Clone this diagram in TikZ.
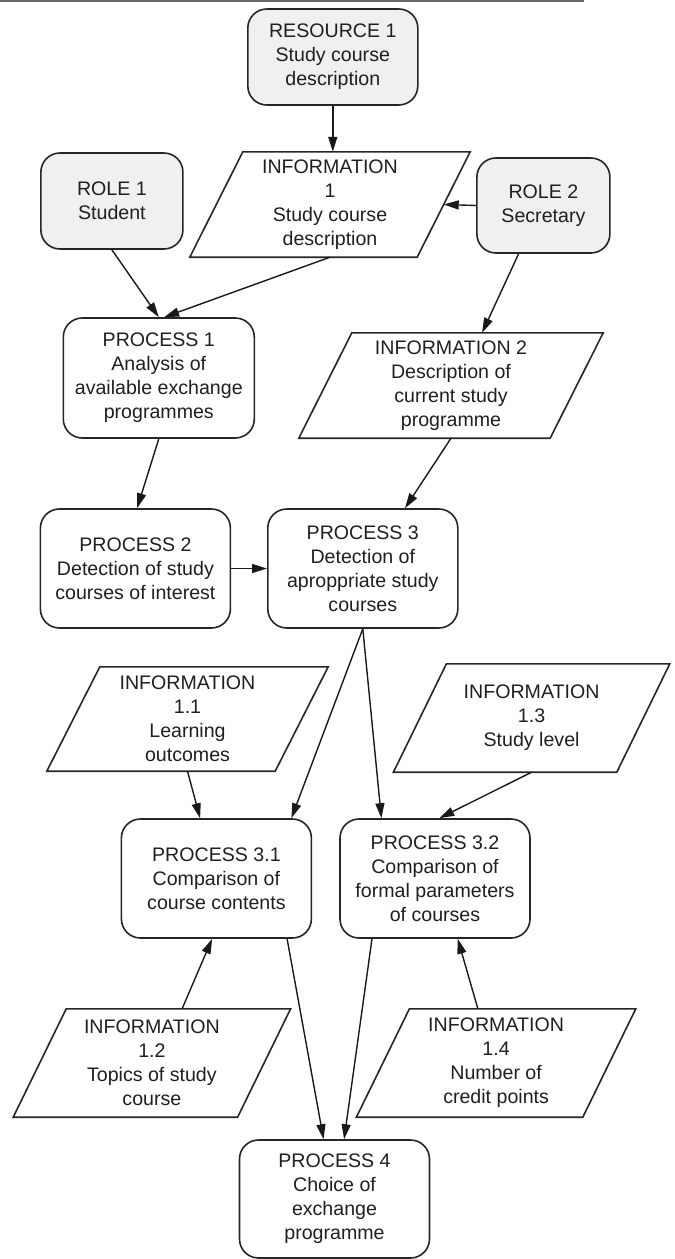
\documentclass[tikz,border=0pt]{standalone}
\usepackage{fontspec}
\setmainfont{Liberation Sans}
\usetikzlibrary{arrows.meta}
\newcommand\drawpara[1]{\draw[paraline] ([xshift=-26.5pt]#1.south west) -- ([xshift=-26.5pt]#1.south east) -- ([xshift=26.5pt]#1.north east) -- ([xshift=26.5pt]#1.north west) -- cycle;}
\begin{document}
\begin{tikzpicture}[x=1pt,y=-1pt,
  txt/.style={align=center, text=black!88, font=\fontsize{19.6}{24}\selectfont, inner sep=0pt},
  box/.style={txt, draw=black!85, line width=1.6pt, rounded corners=19pt, minimum width=190pt, minimum height=119pt},
  gbox/.style={box, fill=gray!12},
  para/.style={txt},
  paraline/.style={draw=black!85, line width=1.6pt},
  arr/.style={draw=black!90, line width=1.4pt, -{Triangle[length=15pt,width=9pt]}}
]
\useasboundingbox (0,0) rectangle (675,1259);
\draw[black!60, line width=1.5pt] (0,0.75) -- (584,0.75);

\node[gbox, minimum width=170pt, minimum height=96pt] (res1) at (332.8,57) {RESOURCE 1\\Study course\\description};
\node[para, minimum width=227pt, minimum height=105pt] (i1) at (330,204.5) {INFORMATION\\1\\Study course\\description};
\drawpara{i1}
\node[gbox, minimum width=142pt, minimum height=96pt] (role1) at (111.9,201) {ROLE 1\\Student};
\node[gbox, minimum width=133pt, minimum height=95pt] (role2) at (543.4,205.5) {ROLE 2\\Secretary};
\node[box, minimum width=191pt, minimum height=120pt] (p1) at (158.8,378) {PROCESS 1\\Analysis of\\available exchange\\programmes};
\node[para, minimum width=251pt, minimum height=105pt] (i2) at (451,385.5) {INFORMATION 2\\Description of\\current study\\programme};
\drawpara{i2}
\node[box] (p2) at (135.4,568.5) {PROCESS 2\\Detection of study\\courses of interest};
\node[box] (p3) at (362.8,568.5) {PROCESS 3\\Detection of\\aproppriate study\\courses};
\node[para, minimum width=228pt, minimum height=104pt] (i11) at (187.5,719) {INFORMATION\\1.1\\Learning\\outcomes};
\drawpara{i11}
\node[para, minimum width=223pt, minimum height=108pt] (i13) at (531.6,718) {INFORMATION\\1.3\\Study level};
\drawpara{i13}
\node[box] (p31) at (216.4,878.5) {PROCESS 3.1\\Comparison of\\course contents};
\node[box] (p32) at (435,878.5) {PROCESS 3.2\\Comparison of\\formal parameters\\of courses};
\node[para, minimum width=224pt, minimum height=108pt] (i12) at (151.9,1063) {INFORMATION\\1.2\\Topics of study\\course};
\drawpara{i12}
\node[para, minimum width=226pt, minimum height=108pt] (i14) at (496.1,1063) {INFORMATION\\1.4\\Number of\\credit points};
\drawpara{i14}
\node[box, minimum height=118pt] (p4) at (334.5,1199) {PROCESS 4\\Choice of\\exchange\\programme};

\draw[arr] (res1.south) -- (res1.south |- i1.north);
\draw[arr] (role2.west) -- (i1.east);
\draw[arr] (role1.south) -- (p1.north);
\draw[arr] (i1.south) -- ([xshift=5.3pt]p1.north);
\draw[arr] ([xshift=-24.8pt]role2.south) -- ([xshift=31.1pt]i2.north);
\draw[arr] (p1.south) -- ([xshift=1.7pt]p2.north);
\draw[arr] (i2.south) -- ([xshift=42.2pt]p3.north);
\draw[arr] (p2.east) -- (p3.west);
\draw[arr] (p3.south) -- ([xshift=75pt]p31.north);
\draw[arr] (p3.south) -- ([xshift=-53.6pt]p32.north);
\draw[arr] (i11.south) -- ([xshift=-16.3pt]p31.north);
\draw[arr] (i13.south) -- ([xshift=4.3pt]p32.north);
\draw[arr] ([xshift=30.2pt]i12.north) -- ([xshift=-4.3pt]p31.south);
\draw[arr] ([xshift=-18.2pt]i14.north) -- ([xshift=22.7pt]p32.south);
\draw[arr] ([xshift=70.7pt]p31.south) -- ([xshift=-10.9pt]p4.north);
\draw[arr] ([xshift=-63pt]p32.south) -- ([xshift=9.6pt]p4.north);
\end{tikzpicture}
\end{document}
